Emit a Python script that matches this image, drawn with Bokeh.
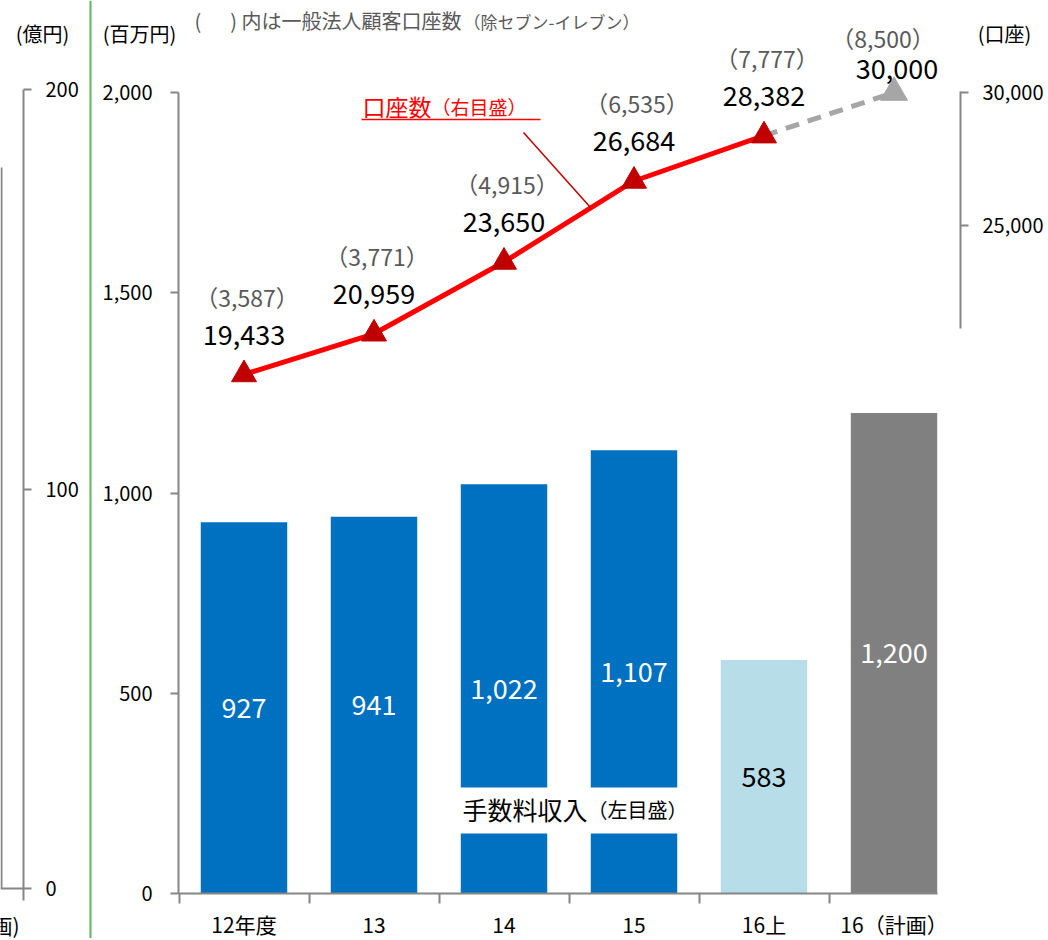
from bokeh.plotting import figure
from bokeh.models import Range1d, LinearAxis, FixedTicker, NumeralTickFormatter, Span
from bokeh.core.properties import value
from bokeh.embed import file_html
from bokeh.resources import INLINE

# ---------------- data ----------------
categories = ["12年度", "13", "14", "15", "16上", "16（計画）"]
fee_income = [927, 941, 1022, 1107, 583, 1200]          # 手数料収入（百万円, 左目盛）
accounts = [19433, 20959, 23650, 26684, 28382, 30000]   # 口座数（右目盛）
corp_accounts = [3587, 3771, 4915, 6535, 7777, 8500]    # 一般法人顧客口座数
left_ticks = [0, 500, 1000, 1500, 2000]
right_ticks = [25000, 30000]
oku_ticks = [0, 100, 200]

# ---------------- styles ----------------
FONT = "Noto Sans CJK JP"
BLUE, LIGHT, GRAY = "#0070C0", "#B7DEE8", "#808080"
bar_colors = [BLUE, BLUE, BLUE, BLUE, LIGHT, GRAY]
bar_label_colors = ["white", "white", "white", "white", "black", "white"]
AXIS_C = "#868686"
TXT_GRAY = "#595959"

# ---------------- layout calibration (screen px of the page) ----------------
W, H = 1046, 938
OFF = 0
X0, DX = 243.5, 130.0                 # screen x of first category centre, spacing
def px2x(px): return (px - X0) / DX
Y0_MAIN, K_MAIN = 893.0, 801.0 / 2000  # main axis: 0 at y=893, px per unit
def py2y(py): return (Y0_MAIN - py) / K_MAIN
ACC_V, ACC_PY, K_ACC = 30000.0, 92.0, 282.0 / 10567
def py2acc(py): return ACC_V + (ACC_PY - py) / K_ACC
OKU_PY0, K_OKU = 888.0, 799.0 / 200
def py2oku(py): return (OKU_PY0 - py) / K_OKU

p = figure(width=W, height=H, output_backend="svg", toolbar_location=None,
           x_range=Range1d(px2x(OFF), px2x(OFF + W)),
           y_range=Range1d(py2y(OFF + H), py2y(OFF)),
           min_border=0, outline_line_color=None, x_axis_type=None, y_axis_type=None)
p.extra_y_ranges = {
    "acct": Range1d(py2acc(OFF + H), py2acc(OFF)),
    "oku": Range1d(py2oku(OFF + H), py2oku(OFF)),
}
p.xgrid.visible = False
p.ygrid.visible = False
p.background_fill_color = "white"
p.border_fill_color = "white"

def style_axis(ax, fs="20px"):
    ax.axis_line_color = AXIS_C
    ax.axis_line_width = 2
    ax.major_tick_line_color = AXIS_C
    ax.major_tick_line_width = 2
    ax.major_tick_in = 0
    ax.major_tick_out = 8
    ax.minor_tick_line_color = None
    ax.major_label_text_font = FONT
    ax.major_label_text_font_size = fs
    ax.major_label_text_color = "black"

xs = list(range(len(categories)))

# ---- bars ----
p.vbar(x=xs, top=fee_income, width=0.665, fill_color=bar_colors, line_color=None)

# white box behind the "手数料収入" label
p.quad(left=[px2x(452)], right=[px2x(700)], bottom=[py2y(833)], top=[py2y(787)],
       fill_color="white", line_color=None)

# bar value labels
p.text(x=xs, y=[v / 2 for v in fee_income], text=[f"{v:,}" for v in fee_income],
       text_color=bar_label_colors, text_font=value(FONT), text_font_size="27px",
       text_align="center", text_baseline="middle")

# ---- account line ----
p.line(x=xs[4:6], y=accounts[4:6], y_range_name="acct", line_color="#A6A6A6",
       line_width=5, line_dash="14 9")
p.line(x=xs[:5], y=accounts[:5], y_range_name="acct", line_color="#FF0000", line_width=5)
p.scatter(x=xs[:5], y=accounts[:5], y_range_name="acct", marker="triangle", size=25,
          fill_color="#C00000", line_color="#C00000")
p.scatter(x=xs[5:], y=accounts[5:], y_range_name="acct", marker="triangle", size=27,
          fill_color="#A6A6A6", line_color="#A6A6A6")

# account labels
p.text(x=xs[:5], y=accounts[:5], y_range_name="acct", text=[f"{v:,}" for v in accounts[:5]],
       y_offset=-40, text_color="black", text_font=value(FONT), text_font_size="27px",
       text_align="center", text_baseline="middle")
p.text(x=xs[:5], y=accounts[:5], y_range_name="acct", text=[f"（{v:,}）" for v in corp_accounts[:5]],
       y_offset=-78, x_offset=3, text_color=TXT_GRAY, text_font=value(FONT), text_font_size="23px",
       text_align="center", text_baseline="middle")
p.text(x=xs[5:], y=accounts[5:], y_range_name="acct", text=[f"{v:,}" for v in accounts[5:]],
       y_offset=-24, x_offset=3, text_color="black", text_font=value(FONT), text_font_size="27px",
       text_align="center", text_baseline="middle")
p.text(x=xs[5:], y=accounts[5:], y_range_name="acct", text=[f"（{v:,}）" for v in corp_accounts[5:]],
       y_offset=-55, x_offset=-11, text_color=TXT_GRAY, text_font=value(FONT), text_font_size="23px",
       text_align="center", text_baseline="middle")

# ---- annotations ----
# red series label with underline and leader line
p.text(x=[px2x(362)], y=[py2y(105)], text=["口座数"], text_color="#FF0000",
       text_font=value(FONT), text_font_size="23px", text_align="left", text_baseline="middle")
p.text(x=[px2x(431)], y=[py2y(106)], text=["（右目盛）"], text_color="#FF0000",
       text_font=value(FONT), text_font_size="19px", text_align="left", text_baseline="middle")
p.segment(x0=[px2x(361)], y0=[py2y(119)], x1=[px2x(540)], y1=[py2y(119)],
          line_color="#FF0000", line_width=1.5)
p.segment(x0=[px2x(523)], y0=[py2y(132)], x1=[px2x(590)], y1=[py2y(207)],
          line_color="#C00000", line_width=1.5)

# bar series label
p.text(x=[px2x(462)], y=[py2y(808)], text=["手数料収入"], text_color="black",
       text_font=value(FONT), text_font_size="25px", text_align="left", text_baseline="middle")
p.text(x=[px2x(587)], y=[py2y(809)], text=["（左目盛）"], text_color="black",
       text_font=value(FONT), text_font_size="20px", text_align="left", text_baseline="middle")

# top note
p.text(x=[px2x(194)], y=[py2y(20)], text=["( 　 ) 内は一般法人顧客口座数"], text_color=TXT_GRAY,
       text_font=value(FONT), text_font_size="20px", text_align="left", text_baseline="middle")
p.text(x=[px2x(463)], y=[py2y(21)], text=["（除セブン-イレブン）"], text_color=TXT_GRAY,
       text_font=value(FONT), text_font_size="17px", text_align="left", text_baseline="middle")

# axis unit labels
for txt, cx in [("(億円)", 42), ("(百万円)", 139), ("(口座)", 1004)]:
    p.text(x=[px2x(cx)], y=[py2y(33)], text=[txt], text_color="black",
           text_font=value(FONT), text_font_size="20px", text_align="center", text_baseline="middle")

# separator (green) and remains of the neighbouring chart at the left edge
p.add_layout(Span(location=px2x(90), dimension="height", line_color="#5CB85C", line_width=2))
p.segment(x0=[px2x(0)], y0=[py2oku(OKU_PY0)], x1=[px2x(23)], y1=[py2oku(OKU_PY0)],
          y_range_name="oku", line_color=AXIS_C, line_width=2)
p.segment(x0=[px2x(1)], y0=[py2oku(OKU_PY0)], x1=[px2x(1)], y1=[py2oku(167)],
          y_range_name="oku", line_color=AXIS_C, line_width=2)
p.text(x=[px2x(19)], y=[py2y(924)], text=["16(計画)"], text_color="black",
       text_font=value(FONT), text_font_size="21px", text_align="right", text_baseline="middle")

# ---- axes ----
ax_left = LinearAxis(fixed_location=px2x(178), ticker=FixedTicker(ticks=left_ticks),
                     formatter=NumeralTickFormatter(format="0,0"), bounds=(0, 2000))
style_axis(ax_left)
ax_left.major_label_standoff = 18
p.add_layout(ax_left, "left")

ax_oku = LinearAxis(y_range_name="oku", fixed_location=px2x(23), ticker=FixedTicker(ticks=oku_ticks),
                    bounds=(py2oku(900), 200))
style_axis(ax_oku)
ax_oku.major_label_standoff = 14
p.add_layout(ax_oku, "right")

ax_acct = LinearAxis(y_range_name="acct", fixed_location=px2x(960), ticker=FixedTicker(ticks=right_ticks),
                     formatter=NumeralTickFormatter(format="0,0"),
                     bounds=(py2acc(328), py2acc(91)))
style_axis(ax_acct)
ax_acct.major_label_standoff = 14
p.add_layout(ax_acct, "right")

ax_x = LinearAxis(fixed_location=0,
                  ticker=FixedTicker(ticks=xs, minor_ticks=[i - 0.5 for i in xs]),
                  major_label_overrides={i: c for i, c in zip(xs, categories)},
                  bounds=(px2x(178), px2x(937)))
style_axis(ax_x, "21px")
ax_x.major_tick_line_color = None
ax_x.minor_tick_line_color = AXIS_C
ax_x.minor_tick_line_width = 2
ax_x.minor_tick_in = 0
ax_x.minor_tick_out = 10
ax_x.major_label_standoff = 5
p.add_layout(ax_x, "below")

open("out.html", "w").write(file_html(p, INLINE))
